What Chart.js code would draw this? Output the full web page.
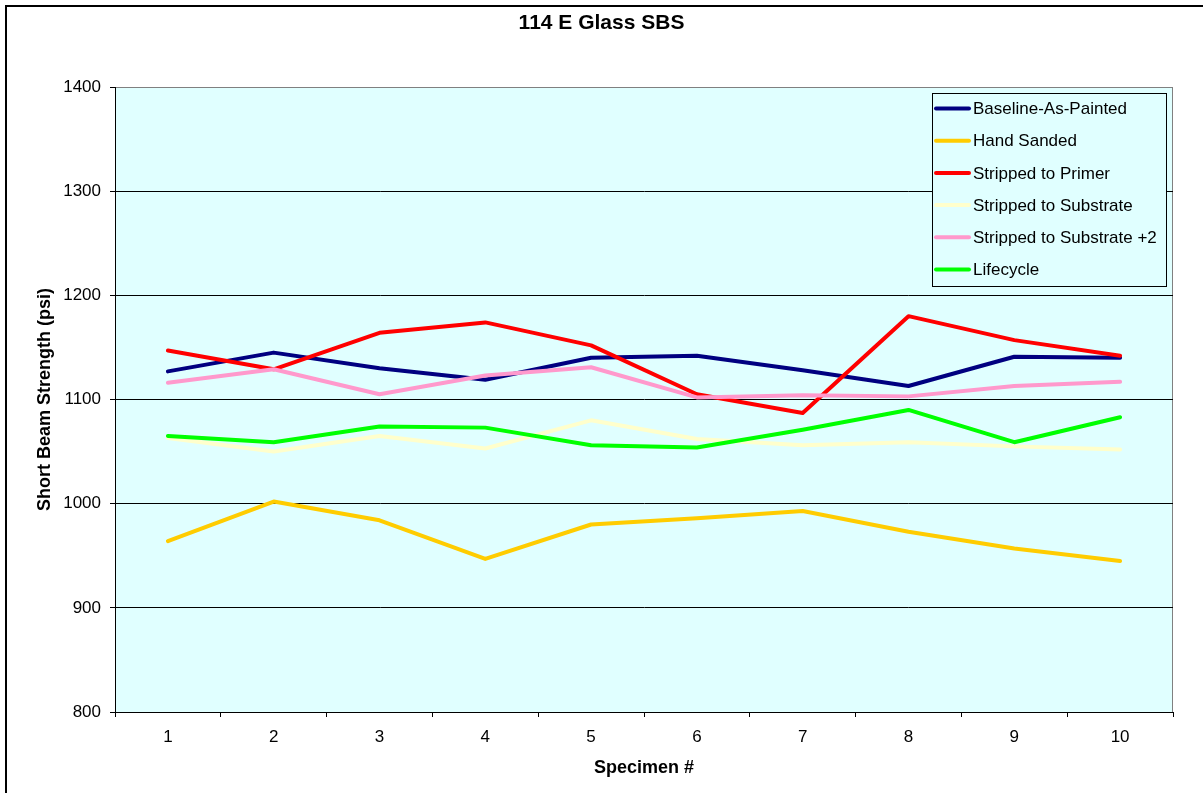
<!DOCTYPE html>
<html>
<head>
<meta charset="utf-8">
<title>114 E Glass SBS</title>
<script src="https://cdn.jsdelivr.net/npm/chart.js@4.4.1/dist/chart.umd.min.js"></script>
<style>
  html, body { margin: 0; padding: 0; background: #ffffff; }
  #wrap { width: 1203px; height: 793px; }
</style>
</head>
<body>
<div id="wrap"><canvas id="sbsChart" width="1203" height="793"></canvas></div>
<script>
// datos
const specimens = ['1', '2', '3', '4', '5', '6', '7', '8', '9', '10'];

const baselineAsPainted   = [1127, 1145, 1130, 1119, 1140, 1142, 1128, 1113, 1141, 1140];
const handSanded          = [964, 1002, 984, 947, 980, 986, 993, 973, 957, 945];
const strippedToPrimer    = [1147, 1129, 1164, 1174, 1152, 1105, 1087, 1180, 1157, 1142];
const strippedToSubstrate = [1063, 1050, 1065, 1053, 1080, 1062, 1056, 1059, 1055, 1052];
const strippedToSub2      = [1116, 1129, 1105, 1123, 1131, 1102, 1104, 1103, 1113, 1117];
const lifecycle           = [1065, 1059, 1074, 1073, 1056, 1054, 1071, 1090, 1059, 1083];

const seriesNames  = ['Baseline-As-Painted', 'Hand Sanded', 'Stripped to Primer',
                      'Stripped to Substrate', 'Stripped to Substrate +2', 'Lifecycle'];
const seriesColors = ['#000080', '#FFCC00', '#FF0000', '#FFFFCC', '#FF99CC', '#00FF00'];
const seriesData   = [baselineAsPainted, handSanded, strippedToPrimer,
                      strippedToSubstrate, strippedToSub2, lifecycle];

const FONT = "'Liberation Sans', Arial, sans-serif";
const PLOT_BG = '#E0FFFF';

// fondo del área de trazado + marco exterior
const backgroundPlugin = {
  id: 'plotBackground',
  beforeDraw(chart) {
    const { ctx, chartArea: a } = chart;
    ctx.save();
    ctx.fillStyle = '#ffffff';
    ctx.fillRect(0, 0, chart.width, chart.height);
    ctx.strokeStyle = '#000000';
    ctx.lineWidth = 2;
    ctx.strokeRect(6, 6, chart.width + 10, chart.height + 10);
    ctx.fillStyle = PLOT_BG;
    ctx.fillRect(a.left, a.top, a.right - a.left, a.bottom - a.top);
    ctx.strokeStyle = '#808080';
    ctx.lineWidth = 1;
    ctx.strokeRect(a.left + 0.5, a.top + 0.5, a.right - a.left - 1, a.bottom - a.top);
    ctx.restore();
  }
};

// leyenda dentro del área (como en Excel)
const boxLegendPlugin = {
  id: 'boxLegend',
  afterDatasetsDraw(chart) {
    const { ctx } = chart;
    const x = 932, y = 93, w = 234, h = 193;
    ctx.save();
    ctx.fillStyle = PLOT_BG;
    ctx.fillRect(x, y, w, h);
    ctx.strokeStyle = '#000000';
    ctx.lineWidth = 1;
    ctx.strokeRect(x + 0.5, y + 0.5, w, h);
    ctx.font = '17px ' + FONT;
    ctx.textBaseline = 'middle';
    chart.data.datasets.forEach((ds, i) => {
      const rowY = 108.5 + i * 32.2;
      ctx.strokeStyle = ds.borderColor;
      ctx.lineWidth = 4;
      ctx.lineCap = 'round';
      ctx.beginPath();
      ctx.moveTo(936, rowY);
      ctx.lineTo(969, rowY);
      ctx.stroke();
      ctx.fillStyle = '#000000';
      ctx.fillText(ds.label, 973, rowY + 1);
    });
    ctx.restore();
  }
};

const datasets = seriesNames.map((name, i) => ({
  label: name,
  data: seriesData[i],
  borderColor: seriesColors[i],
  backgroundColor: seriesColors[i],
  borderWidth: 4,
  pointRadius: 0,
  pointHoverRadius: 0,
  tension: 0,
  fill: false,
  borderJoinStyle: 'round',
  borderCapStyle: 'round',
  order: seriesNames.length - i
}));

new Chart(document.getElementById('sbsChart'), {
  type: 'line',
  data: { labels: specimens, datasets: datasets },
  options: {
    responsive: false,
    animation: false,
    layout: { padding: { top: 0, left: 0, right: 0, bottom: 11 } },
    plugins: {
      legend: { display: false },
      tooltip: { enabled: false },
      title: {
        display: true,
        text: '114 E Glass SBS',
        color: '#000000',
        font: { family: FONT, size: 21, weight: 'bold' },
        padding: { top: 10.5, bottom: 51.3 }
      }
    },
    scales: {
      x: {
        offset: true,
        afterFit(scale) { scale.height = 70; },
        grid: {
          offset: true,
          drawOnChartArea: false,
          tickLength: 5,
          color: '#000000'
        },
        border: { color: '#000000', width: 1 },
        ticks: {
          color: '#000000',
          font: { family: FONT, size: 17 },
          padding: 10,
          maxRotation: 0
        },
        title: {
          display: true,
          text: 'Specimen #',
          color: '#000000',
          font: { family: FONT, size: 18, weight: 'bold' },
          padding: { top: 0, bottom: 3 }
        }
      },
      y: {
        min: 800,
        max: 1400,
        afterFit(scale) { scale.width = 115; },
        grid: {
          color: ctx => (ctx.tick && ctx.tick.value === 1400) ? '#808080' : '#000000',
          tickColor: '#000000',
          tickLength: 5,
          lineWidth: 1
        },
        border: { color: '#000000', width: 1 },
        ticks: {
          stepSize: 100,
          color: '#000000',
          font: { family: FONT, size: 17 },
          padding: 9,
          callback: v => String(v)
        },
        title: {
          display: true,
          text: 'Short Beam Strength (psi)',
          color: '#000000',
          font: { family: FONT, size: 18, weight: 'bold' },
          padding: { top: 34, bottom: 0 }
        }
      },
      // eje vacío a la derecha: sólo reserva el margen
      yRight: {
        position: 'right',
        afterFit(scale) { scale.width = 30; },
        grid: { display: false },
        border: { display: false },
        ticks: { display: false }
      }
    }
  },
  plugins: [backgroundPlugin, boxLegendPlugin]
});
</script>
</body>
</html>
